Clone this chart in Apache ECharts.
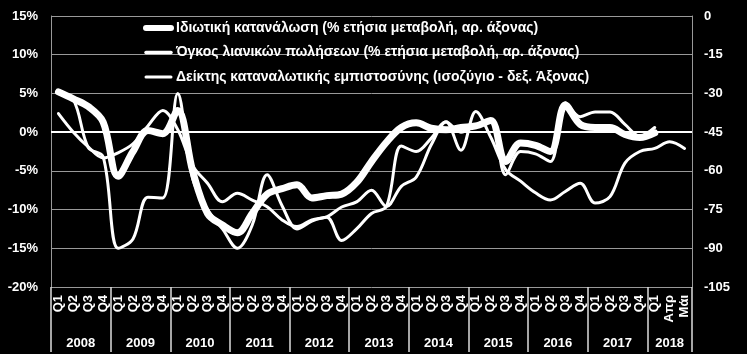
<!DOCTYPE html>
<html>
<head>
<meta charset="utf-8">
<script src="https://cdn.jsdelivr.net/npm/echarts@6/dist/echarts.min.js"></script>
<style>
html, body { margin: 0; padding: 0; background: #000; }
#chart { width: 747px; height: 354px; }
</style>
</head>
<body>
<div id="chart"></div>
<script>
// κατηγορίες άξονα Χ (τρίμηνα 2008-2018, μετά μήνες)
const categories = [
	"Q1", "Q2", "Q3", "Q4", "Q1", "Q2", "Q3", "Q4", "Q1", "Q2", "Q3", "Q4",
	"Q1", "Q2", "Q3", "Q4", "Q1", "Q2", "Q3", "Q4", "Q1", "Q2", "Q3", "Q4",
	"Q1", "Q2", "Q3", "Q4", "Q1", "Q2", "Q3", "Q4", "Q1", "Q2", "Q3", "Q4",
	"Q1", "Q2", "Q3", "Q4", "Q1", "Απρ", "Μάι"
]
const years = ["2008", "2009", "2010", "2011", "2012", "2013", "2014", "2015", "2016", "2017", "2018"]
const yearCenters = [2, 6, 10, 14, 18, 22, 26, 30, 34, 38, 41.5]

const seriesNames = [
	"Ιδιωτική κατανάλωση (% ετήσια μεταβολή, αρ. άξονας)",
	"Όγκος λιανικών πωλήσεων (% ετήσια μεταβολή, αρ. άξονας)",
	"Δείκτης καταναλωτικής εμπιστοσύνης (ισοζύγιο - δεξ. Άξονας)"
]

// ιδιωτική κατανάλωση, % (αρ. άξονας)
const consumption = [
	5.2, 4.3, 3.3, 1.3, -5.7, -2.5, 0.2, -0.2, 2.8, -5.0, -10.5, -12.0,
	-13.0, -10.5, -8.0, -7.3, -6.8, -8.5, -8.2, -8.0, -6.5, -3.8, -1.3, 0.6,
	1.2, 0.5, 0.3, 0.6, 0.8, 1.5, -3.8, -1.4, -1.7, -2.5, 3.5, 1.0,
	0.6, 0.6, -0.3, -0.7, -0.1, null, null
]
// όγκος λιανικών πωλήσεων, % (αρ. άξονας)
const retail = [
	5.0, 4.2, -2.0, -3.2, -15.0, -13.8, -8.4, -8.5, 5.0, -6.0, -10.0, -12.5,
	-15.0, -12.0, -5.5, -9.5, -12.5, -11.5, -11.0, -14.0, -12.5, -10.5, -9.6, -1.8,
	-2.5, -0.8, 1.3, 0.0, 0.8, 1.5, -5.5, -2.5, -2.8, -3.8, 3.8, 2.0,
	2.6, 2.6, 1.0, -0.5, 0.6, null, null
]
// καταναλωτική εμπιστοσύνη, ισοζύγιο (δεξ. άξονας)
const confidence = [
	-37.8, -45, -50.7, -55, -53, -49.5, -42.6, -36.6, -44, -58, -64.8, -72,
	-68.7, -71.3, -73.9, -79, -81.6, -79, -77.8, -74, -72, -67.5, -73.8, -66,
	-62.4, -50, -41, -52, -37, -47, -59.5, -64, -68.5, -71.3, -68, -64.8,
	-72.5, -70, -57, -52.5, -51.3, -48.7, -51.3
]

const font = "'Liberation Sans', Arial, sans-serif"
const axisFont = { color: "#fff", fontFamily: font, fontWeight: "bold", fontSize: 13 }

const chart = echarts.init(document.getElementById("chart"))

function lineSeries(name, data, width, yIndex) {
	return {
		type: "line",
		name: name,
		data: data,
		yAxisIndex: yIndex,
		smooth: 0.35,
		symbol: "none",
		connectNulls: false,
		itemStyle: { color: "#fff" },
		lineStyle: { color: "#fff", width: width, cap: "round", join: "round" }
	}
}

const series = [
	lineSeries(seriesNames[0], consumption, 7, 0),
	lineSeries(seriesNames[1], retail, 3, 0),
	lineSeries(seriesNames[2], confidence, 3, 1)
]
// γραμμή του μηδενός
series[0].markLine = {
	silent: true,
	symbol: "none",
	label: { show: false },
	lineStyle: { color: "#fff", width: 2, type: "solid" },
	data: [{ yAxis: 0 }]
}

const noSymbol = { opacity: 0 }

chart.setOption({
	backgroundColor: "#000",
	animation: false,
	grid: { left: 51, right: 55, top: 16, bottom: 67 },
	legend: {
		orient: "vertical",
		left: 143,
		top: 21,
		padding: 0,
		itemWidth: 25,
		itemHeight: 14,
		itemGap: 10.5,
		textStyle: { color: "#fff", fontSize: 14, fontWeight: "bold", fontFamily: font },
		data: [
			{ name: seriesNames[0], itemStyle: noSymbol, lineStyle: { width: 6, cap: "round" } },
			{ name: seriesNames[1], itemStyle: noSymbol, lineStyle: { width: 3.5, cap: "round" } },
			{ name: seriesNames[2], itemStyle: noSymbol, lineStyle: { width: 3, cap: "round" } }
		]
	},
	xAxis: [
		{
			type: "category",
			data: categories,
			axisLine: { show: false, onZero: false },
			axisTick: {
				show: true,
				length: 65,
				alignWithLabel: false,
				// διαχωριστικά ετών
				interval: function (i) {
					return i % 4 === 0
				},
				lineStyle: { color: "#ddd", width: 1.5 }
			},
			axisLabel: Object.assign({ rotate: 90, margin: 8, interval: 0 }, axisFont)
		},
		{
			type: "value",
			min: 0,
			max: 43,
			position: "bottom",
			axisLine: { show: false, onZero: false },
			splitLine: { show: false },
			axisTick: { show: false },
			axisLabel: Object.assign({
				margin: 50,
				customValues: yearCenters,
				formatter: function (v) {
					return years[yearCenters.indexOf(v)]
				}
			}, axisFont)
		}
	],
	yAxis: [
		{
			type: "value",
			min: -20,
			max: 15,
			interval: 5,
			axisLine: { show: true, lineStyle: { color: "#999" } },
			axisTick: { show: false },
			axisLabel: Object.assign({ formatter: "{value}%", margin: 13 }, axisFont),
			splitLine: { lineStyle: { color: "#999", width: 1 } }
		},
		{
			type: "value",
			min: -105,
			max: 0,
			interval: 15,
			position: "right",
			axisLine: { show: true, lineStyle: { color: "#999" } },
			axisTick: { show: false },
			axisLabel: Object.assign({ margin: 12 }, axisFont),
			splitLine: { show: false }
		}
	],
	series: series
})
</script>
</body>
</html>
